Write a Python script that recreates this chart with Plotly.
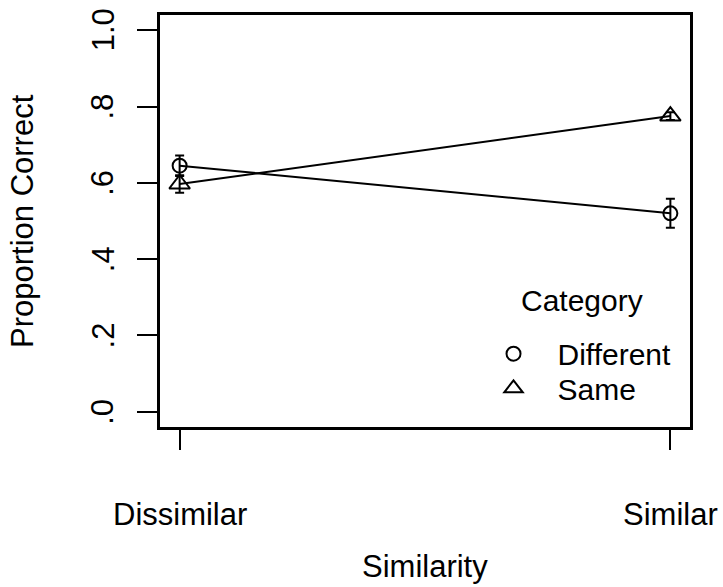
import plotly.graph_objects as go

similarity = ["Dissimilar", "Similar"]
diff_mean = [0.645, 0.520]
diff_err = [0.027, 0.038]
same_mean = [0.597, 0.775]
same_err = [0.023, 0.010]
ytick_vals = [0.0, 0.2, 0.4, 0.6, 0.8, 1.0]
ytick_text = [".0", ".2", ".4", ".6", ".8", "1.0"]

FONT = "Liberation Sans, Arial, Helvetica, sans-serif"
FS = 31
LFS = 30

fig = go.Figure()

series = [
    ("Different", diff_mean, diff_err, "circle-open", 14, "legend", 0.178),
    ("Same", same_mean, same_err, "triangle-up-open", 18, "legend2", 0.094),
]
for name, mean, err, sym, size, leg, ly in series:
    fig.add_trace(go.Scatter(
        x=similarity, y=mean, mode="lines+markers", showlegend=False,
        line=dict(color="black", width=2),
        marker=dict(symbol=sym, size=size, color="black", line=dict(width=2, color="black")),
        error_y=dict(type="data", array=err, visible=True, color="black", thickness=2, width=4.5),
        hoverinfo="skip",
    ))
    fig.add_trace(go.Scatter(
        x=[None], y=[None], mode="markers", name=name, showlegend=True, legend=leg,
        marker=dict(symbol=sym, size=size, color="black", line=dict(width=2, color="black")),
    ))

annotations = []
for v, t in zip(ytick_vals, ytick_text):
    annotations.append(dict(x=0, xref="paper", y=v, yref="y", text=t, showarrow=False,
                            textangle=-90, xanchor="center", yanchor="middle", xshift=-57,
                            font=dict(size=FS, family=FONT, color="black")))
for c in similarity:
    annotations.append(dict(x=c, xref="x", y=0, yref="paper", text=c, showarrow=False,
                            xanchor="center", yanchor="middle", yshift=-87,
                            font=dict(size=FS, family=FONT, color="black")))
annotations.append(dict(x=0.5, xref="paper", y=0, yref="paper", text="Similarity", showarrow=False,
                        xanchor="center", yanchor="middle", yshift=-139,
                        font=dict(size=FS, family=FONT, color="black")))
annotations.append(dict(x=0, xref="paper", y=0.5, yref="paper", text="Proportion Correct", showarrow=False,
                        textangle=-90, xanchor="center", yanchor="middle", xshift=-138,
                        font=dict(size=FS, family=FONT, color="black")))
annotations.append(dict(x=0.796, xref="paper", y=0.306, yref="paper", text="Category", showarrow=False,
                        xanchor="center", yanchor="middle",
                        font=dict(size=LFS, family=FONT, color="black")))

leg_common = dict(x=0.584, xanchor="left", yanchor="middle",
                  bgcolor="rgba(0,0,0,0)", borderwidth=0,
                  font=dict(size=LFS, family=FONT, color="black"),
                  itemwidth=78, tracegroupgap=0)

fig.update_layout(
    width=723, height=587,
    margin=dict(l=160, r=33, t=12, b=160, pad=0),
    paper_bgcolor="white", plot_bgcolor="white",
    font=dict(family=FONT, size=FS, color="black"),
    xaxis=dict(type="category", range=[-0.04, 1.04], showgrid=False, zeroline=False,
               showline=True, mirror=True, linecolor="black", linewidth=2.5,
               ticks="outside", ticklen=20, tickwidth=2, tickcolor="black",
               showticklabels=False),
    yaxis=dict(range=[-0.04, 1.04], showgrid=False, zeroline=False,
               showline=True, mirror=True, linecolor="black", linewidth=2.5,
               tickvals=ytick_vals, ticks="outside", ticklen=20, tickwidth=2, tickcolor="black",
               showticklabels=False),
    legend=dict(y=series[0][6], **leg_common),
    legend2=dict(y=series[1][6], **leg_common),
    annotations=annotations,
)

fig.write_html("out.html", config={"displayModeBar": False},
               post_script="document.body.style.margin='0px';")
